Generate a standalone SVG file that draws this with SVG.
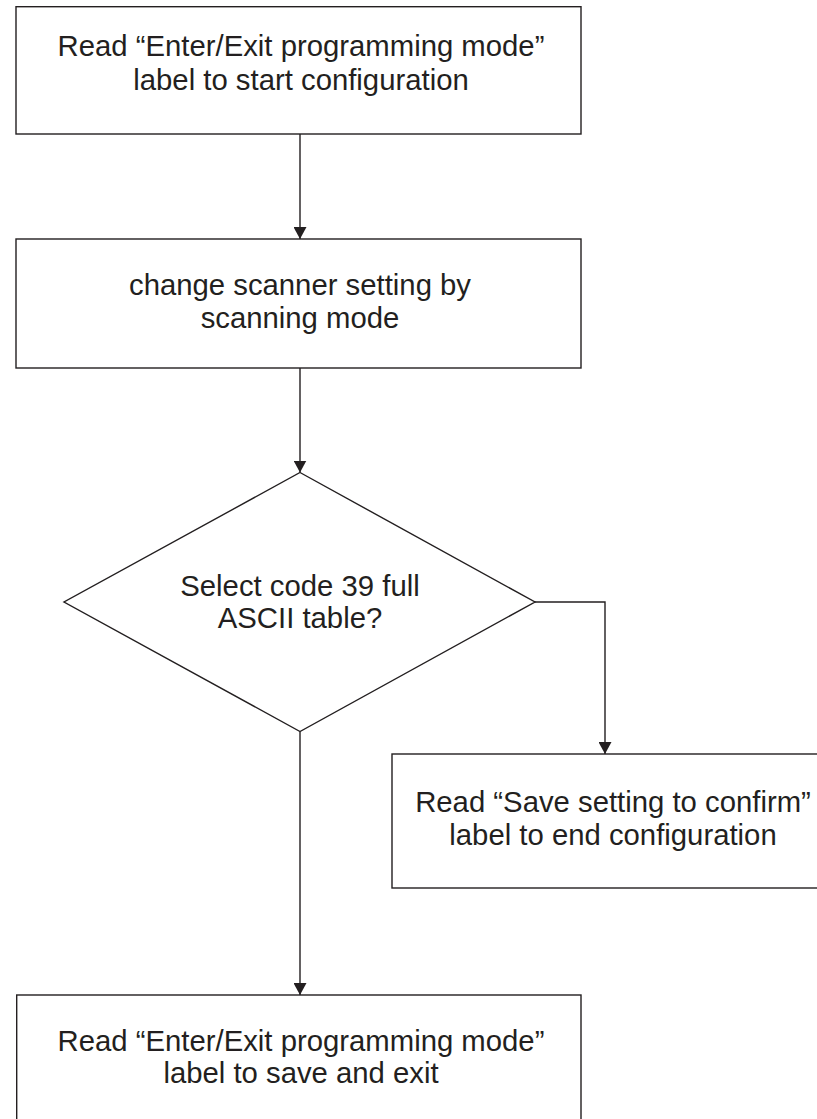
<svg xmlns="http://www.w3.org/2000/svg" width="817" height="1119" viewBox="0 0 817 1119">
<style>
  .box { fill: #ffffff; stroke: #231f20; stroke-width: 1.4; }
  .edge { fill: none; stroke: #231f20; stroke-width: 1.4; }
  .lbl { font-family: "Liberation Sans", Arial, Helvetica, sans-serif; font-size: 29.3px; fill: #231f20; text-anchor: middle; }
</style>
<defs>
  <marker id="arrow" viewBox="0 0 12 13" refX="12" refY="6.5" markerWidth="12" markerHeight="13" markerUnits="userSpaceOnUse" orient="auto">
    <path d="M0,0 L12,6.5 L0,13 z" fill="#231f20"/>
  </marker>
</defs>
<rect width="817" height="1119" fill="#ffffff"/>
<g id="connectors">
  <line class="edge" x1="300" y1="134" x2="300" y2="239" marker-end="url(#arrow)"/>
  <line class="edge" x1="300" y1="368" x2="300" y2="472.5" marker-end="url(#arrow)"/>
  <polyline class="edge" points="535,602 605,602 605,754" marker-end="url(#arrow)"/>
  <line class="edge" x1="300" y1="731.5" x2="300" y2="995" marker-end="url(#arrow)"/>
</g>
<g id="start">
  <rect class="box" x="16" y="6.7" width="565" height="127.3"/>
  <text class="lbl" x="301" y="56">Read “Enter/Exit programming mode”</text>
  <text class="lbl" x="301" y="90">label to start configuration</text>
</g>
<g id="change">
  <rect class="box" x="16" y="239" width="565" height="129"/>
  <text class="lbl" x="300" y="295">change scanner setting by</text>
  <text class="lbl" x="300" y="328.3">scanning mode</text>
</g>
<g id="decision">
  <polygon class="box" points="300,472.5 535,602 300,731.5 64,602"/>
  <text class="lbl" x="300" y="595.7">Select code 39 full</text>
  <text class="lbl" x="300" y="628.3">ASCII table?</text>
</g>
<g id="save">
  <rect class="box" x="392" y="754" width="442" height="134"/>
  <text class="lbl" x="613" y="812.3">Read “Save setting to confirm”</text>
  <text class="lbl" x="613" y="845">label to end configuration</text>
</g>
<g id="exit">
  <rect class="box" x="16.7" y="995" width="564.3" height="140"/>
  <text class="lbl" x="301" y="1050.7">Read “Enter/Exit programming mode”</text>
  <text class="lbl" x="301" y="1083.3">label to save and exit</text>
</g>
</svg>
